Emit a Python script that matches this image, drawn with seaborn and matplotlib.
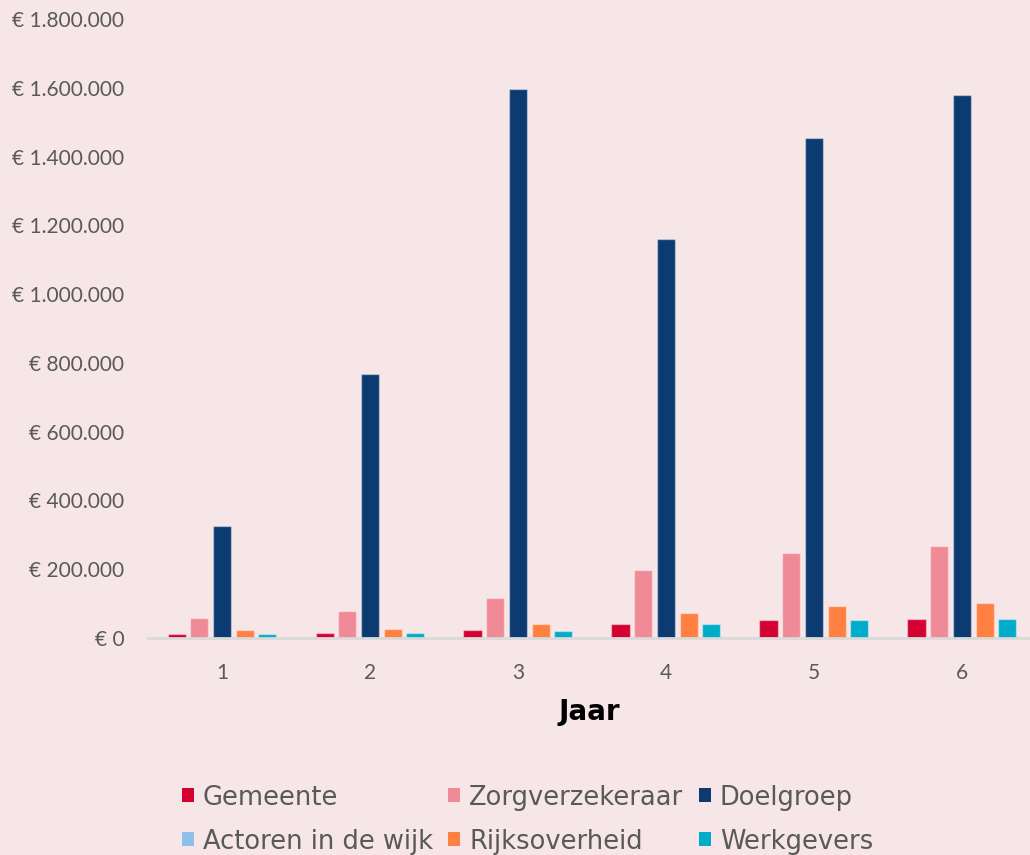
import matplotlib
matplotlib.use("Agg")
import matplotlib.pyplot as plt
from matplotlib.patches import Patch
from matplotlib.ticker import FuncFormatter
import seaborn as sns
import pandas as pd

# Jaarlijkse baten per partij (euro)
jaren = ["1", "2", "3", "4", "5", "6"]
gemeente = [12000, 14500, 23000, 41000, 51000, 56000]
zorgverzekeraar = [57000, 78000, 116000, 198000, 246000, 267000]
doelgroep = [326000, 767000, 1596000, 1159000, 1453000, 1578000]
rijksoverheid = [23000, 26000, 41000, 73000, 93000, 101000]
werkgevers = [12000, 14500, 21000, 41000, 51000, 56000]

series = {
    "Gemeente": gemeente,
    "Zorgverzekeraar": zorgverzekeraar,
    "Doelgroep": doelgroep,
    "Rijksoverheid": rijksoverheid,
    "Werkgevers": werkgevers,
}
kleuren = {
    "Gemeente": "#D50032",
    "Zorgverzekeraar": "#EF8A96",
    "Doelgroep": "#0B3B70",
    "Actoren in de wijk": "#8DC0E8",
    "Rijksoverheid": "#FF8040",
    "Werkgevers": "#00ACC8",
}
y_ticks = [0, 200000, 400000, 600000, 800000, 1000000, 1200000, 1400000, 1600000, 1800000]

rows = [
    {"Jaar": j, "Partij": p, "Bedrag": v}
    for p, vals in series.items()
    for j, v in zip(jaren, vals)
]
df = pd.DataFrame(rows)

bg = "#F7E6E8"
sns.set_theme(style="white")
plt.rcParams["font.family"] = ["Lato", "DejaVu Sans"]

fig = plt.figure(figsize=(10.3, 8.55), dpi=100, facecolor=bg)
ax = fig.add_axes([0.1437, 0.2538, 0.8563, 0.724])
ax.set_facecolor(bg)

sns.barplot(
    data=df, x="Jaar", y="Bedrag", hue="Partij",
    order=jaren, hue_order=list(series.keys()),
    palette=[kleuren[p] for p in series.keys()],
    saturation=1, width=0.767, gap=0.2, errorbar=None,
    edgecolor=(1, 1, 1, 0.4), linewidth=1.0,
    ax=ax, legend=False,
)

ax.set_ylim(0, 1800000)
ax.set_xlim(-0.5, 5.46)
ax.set_yticks(y_ticks)


def euro(v, _):
    if v == 0:
        return "€ 0"
    return "€ " + f"{int(v):,}".replace(",", ".")


ax.yaxis.set_major_formatter(FuncFormatter(euro))
ax.tick_params(axis="both", length=0, labelsize=15, labelcolor="#595959")
ax.tick_params(axis="y", pad=17)
ax.tick_params(axis="x", pad=18)

for side in ["top", "right", "left"]:
    ax.spines[side].set_visible(False)
ax.spines["bottom"].set_color("#D9D9D9")
ax.spines["bottom"].set_linewidth(2)

ax.set_ylabel("")
ax.set_xlabel("Jaar", fontsize=20, fontweight="bold", color="black",
              family="DejaVu Sans", labelpad=11)

legend_order = ["Gemeente", "Actoren in de wijk", "Zorgverzekeraar",
                "Rijksoverheid", "Doelgroep", "Werkgevers"]
handles = [Patch(facecolor=kleuren[n], edgecolor="none", label=n) for n in legend_order]
fig.legend(
    handles=handles, ncol=3, loc="center", bbox_to_anchor=(0.512, 0.0415),
    frameon=False, prop={"family": "DejaVu Sans", "size": 18.5},
    labelcolor="#595959", handlelength=0.47, handleheight=0.47,
    handletextpad=0.35, columnspacing=0.6, labelspacing=0.7,
)

fig.savefig("out.png", dpi=100, facecolor=bg)
